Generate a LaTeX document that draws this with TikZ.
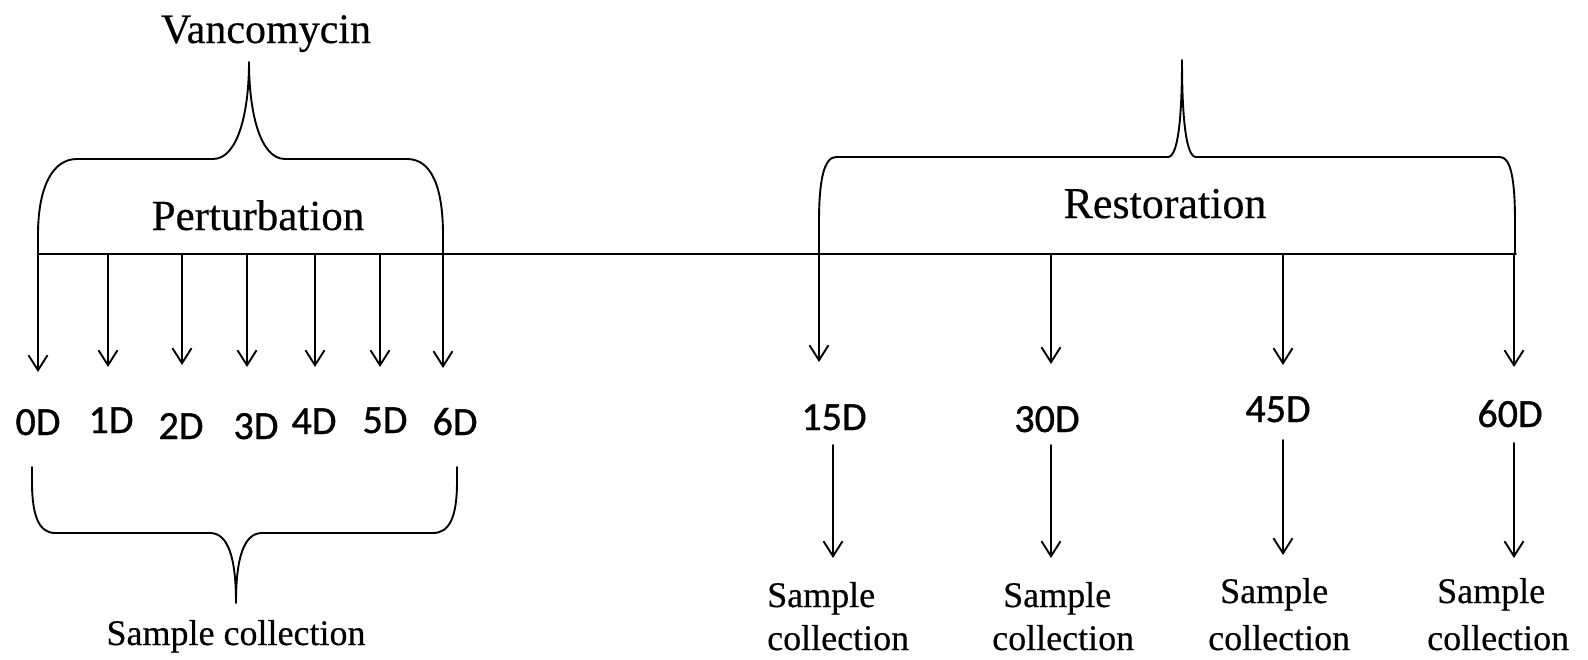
\documentclass[tikz,border=0pt]{standalone}
\usepackage{fontspec}
\setmainfont{Liberation Serif}[FakeBold=0.4]
\newfontfamily\calib{Carlito}[FakeBold=0.9]
\usetikzlibrary{arrows.meta}
\tikzset{
  ln/.style={line width=1.9pt, line cap=round, line join=round},
  arr/.style={ln, -{Straight Barb[length=15pt,width=19pt,line width=1.9pt]}},
  big/.style={inner sep=0pt, anchor=base, font=\fontsize{43}{48}\selectfont},
  day/.style={inner sep=0pt, anchor=base, font=\calib\fontsize{40}{44}\selectfont},
  samp/.style={inner sep=0pt, anchor=base west, font=\fontsize{36}{40}\selectfont},
}
\begin{document}
\begin{tikzpicture}[x=1pt,y=-1pt]
\useasboundingbox (0,0) rectangle (1588,659);
\fill[white] (0,0) rectangle (1588,659);

% timeline
\coordinate (L0) at (38,254);
\coordinate (L1) at (1516,254);
\draw[ln] (L0) -- (L1);

% Perturbation brace
\draw[ln] (38,254) -- (38,235) .. controls (38,188) and (52,159) .. (77,159)
  -- (213,159) .. controls (238,159) and (249,112) .. (249,62)
  .. controls (249,112) and (260,159) .. (285,159)
  -- (407,159) .. controls (432,159) and (443,188) .. (443,235) -- (443,254);
\node[big, font=\fontsize{42}{48}\selectfont] (vanc) at (266,43) {Vancomycin};
\node[big] (pert) at (258,230) {Perturbation};

% Restoration brace
\draw[ln] (819,254) -- (819,222) .. controls (819,180) and (824,157) .. (836,157)
  -- (1168,157) .. controls (1178,157) and (1182,118) .. (1182,60)
  .. controls (1182,118) and (1186,157) .. (1196,157)
  -- (1500,157) .. controls (1511,157) and (1515,180) .. (1515,222) -- (1515,254);
\node[big, font=\fontsize{44}{48}\selectfont] (rest) at (1165,218) {Restoration};

% perturbation days
\foreach \n/\ax/\ty/\lx/\ly in {0/38/372/38/435, 1/108/367/111/433, 2/182/365/181/439, 3/247/367/256/439, 4/315/367/314/434, 5/380/367/385/433, 6/443/368/455/435}{
  \coordinate (ps\n) at (\ax,254);
  \coordinate (pt\n) at (\ax,\ty);
  \draw[arr] (ps\n) -- (pt\n);
  \node[day] (d\n) at (\lx,\ly) {\n D};
}

% bottom brace
\draw[ln] (32,467) -- (32,482) .. controls (32,518) and (40,533) .. (55,533)
  -- (210,533) .. controls (229,533) and (236,560) .. (236,603)
  .. controls (236,560) and (243,533) .. (262,533)
  -- (433,533) .. controls (449,533) and (457,518) .. (457,482) -- (457,467);
\node[samp, anchor=base] (sc) at (236,645) {Sample collection};

% restoration days
\foreach \n/\ax/\ty/\lx/\ly/\bx/\bs/\be/\sx/\sy/\cx in {
  15/819/362/834/430/833/445/558/767/607/767,
  30/1051/364/1047/432/1051/445/558/1003/607/992,
  45/1283/365/1278/422/1283/440/555/1220/603/1208,
  60/1514/367/1510/427/1514/443/558/1437/603/1427}{
  \coordinate (rs\n) at (\ax,254);
  \coordinate (rt\n) at (\ax,\ty);
  \draw[arr] (rs\n) -- (rt\n);
  \node[day] (r\n) at (\lx,\ly) {\n D};
  \coordinate (bs\n) at (\bx,\bs);
  \coordinate (be\n) at (\bx,\be);
  \draw[arr] (bs\n) -- (be\n);
  \node[samp] (sa\n) at (\sx,\sy) {Sample};
  \node[samp] (co\n) at (\cx,650) {collection};
}
\end{tikzpicture}
\end{document}
